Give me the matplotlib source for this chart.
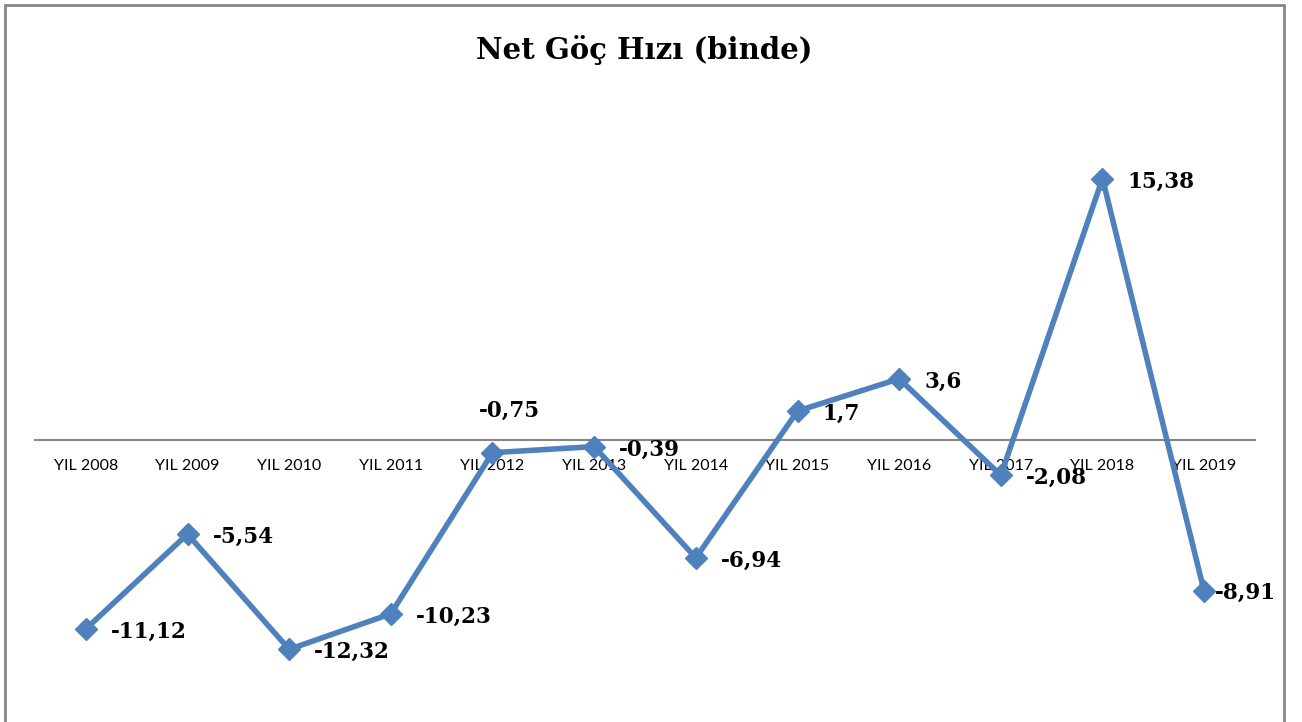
import matplotlib
matplotlib.use("Agg")
import matplotlib.pyplot as plt
from matplotlib.patches import Rectangle

# Net göç hızı (binde), yıllara göre
yillar = ["YIL 2008", "YIL 2009", "YIL 2010", "YIL 2011", "YIL 2012", "YIL 2013",
          "YIL 2014", "YIL 2015", "YIL 2016", "YIL 2017", "YIL 2018", "YIL 2019"]
hiz = [-11.12, -5.54, -12.32, -10.23, -0.75, -0.39, -6.94, 1.7, 3.6, -2.08, 15.38, -8.91]
etiketler = ["-11,12", "-5,54", "-12,32", "-10,23", "-0,75", "-0,39",
             "-6,94", "1,7", "3,6", "-2,08", "15,38", "-8,91"]

mavi = "#4F81BD"

fig = plt.figure(figsize=(13.02, 7.22), dpi=100)

# cerceve
fig.patches.append(Rectangle((5/1302, -0.05), 1279/1302, 1.05 - 5/722,
                             transform=fig.transFigure, fill=False,
                             edgecolor="#868686", linewidth=2))

fig.text(644/1302, 1 - 50/722, "Net Göç Hızı (binde)", ha="center", va="center",
         fontsize=21, fontweight="bold", family="DejaVu Serif")

ax = fig.add_axes([35/1302, 22/722, 1220/1302, 600/722])
x = list(range(len(yillar)))
ax.plot(x, hiz, color=mavi, linewidth=4, marker="D", markersize=11, zorder=3)

ax.set_xlim(-0.5, 11.5)
ax.set_ylim(-15.3, 20)

for s in ["top", "left", "right"]:
    ax.spines[s].set_visible(False)
ax.spines["bottom"].set_position(("data", 0))
ax.spines["bottom"].set_color("#868686")
ax.spines["bottom"].set_linewidth(1.5)
ax.spines["bottom"].set_zorder(1)
ax.set_yticks([])
ax.set_xticks(x)
ax.set_xticklabels(yillar, family="Lato", fontsize=11.5)
ax.tick_params(axis="x", length=0, pad=14)

for i, (v, t) in enumerate(zip(hiz, etiketler)):
    if i == 4:
        off, ha = (12, 30), "center"
    elif i == 11:
        off, ha = (8, -1), "left"
    else:
        off, ha = (18, -2), "left"
    ax.annotate(t, (i, v), xytext=off, textcoords="offset points", ha=ha, va="center",
                fontsize=15.5, fontweight="bold", family="DejaVu Serif", zorder=4)

fig.savefig("out.png", dpi=100)
